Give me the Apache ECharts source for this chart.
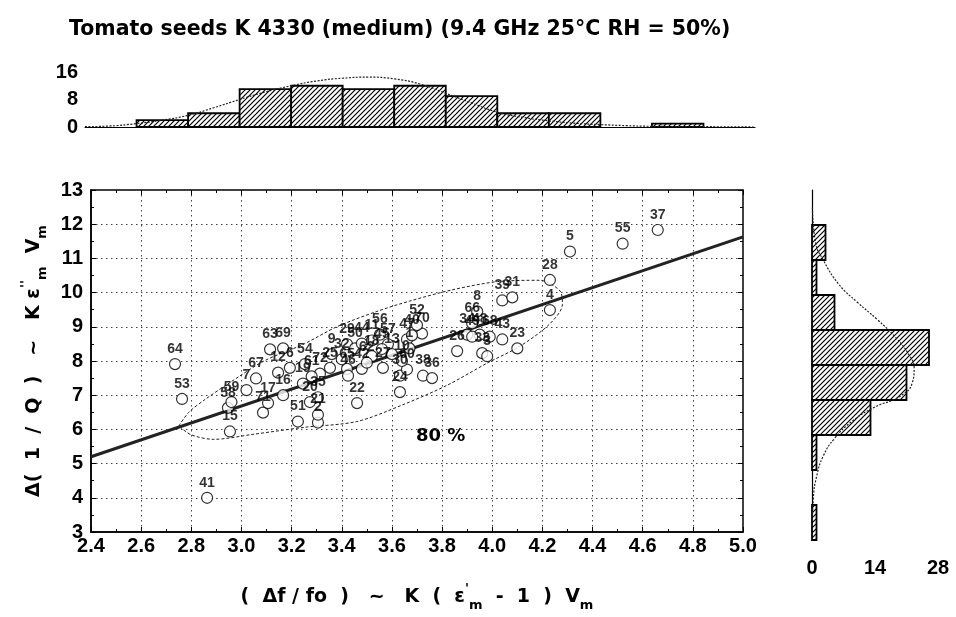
<!DOCTYPE html>
<html>
<head>
<meta charset="utf-8">
<script src="https://cdn.jsdelivr.net/npm/echarts@6/dist/echarts.min.js"></script>
<style>
  html, body { margin: 0; padding: 0; background: #fff; }
  #chart { width: 956px; height: 617px; }
</style>
</head>
<body>
<div id="chart"></div>
<script>
  // scatter points (sample number, x, y)
  const pointLabels = ['64', '53', '41', '15', '58', '59', '71', '17', '67', '7', '63', '69', '12', '6', '16', '51',
    '2', '21', '35', '54', '72', '25', '65', '22', '46', '42', '29', '50', '44', '18', '56', '27', '57', '30', '24',
    '47', '70', '38', '19', '20', '9', '11', '13', '32', '45', '60', '61', '52', '40', '1', '10', '36', '26', '33',
    '3', '43', '23', '34', '48', '49', '68', '66', '8', '39', '31', '4', '28', '5', '55', '37', '62'];
  const pointX = [2.735, 2.763, 2.863, 2.954, 2.946, 2.96, 3.086, 3.106, 3.058, 3.02, 3.114, 3.166, 3.146, 3.193, 3.166, 3.225,
    3.305, 3.305, 3.305, 3.253, 3.313, 3.353, 3.421, 3.461, 3.425, 3.48, 3.421, 3.453, 3.48, 3.52, 3.552, 3.564, 3.584, 3.632, 3.632,
    3.66, 3.72, 3.724, 3.245, 3.273, 3.36, 3.52, 3.6, 3.4, 3.56, 3.66, 3.28, 3.7, 3.68, 3.67, 3.64, 3.76, 3.86, 3.96,
    3.98, 4.04, 4.1, 3.9, 3.95, 3.92, 3.99, 3.92, 3.94, 4.04, 4.08, 4.23, 4.23, 4.31, 4.52, 4.66, 3.5];
  const pointY = [7.91, 6.89, 4.0, 5.94, 6.63, 6.8, 6.49, 6.77, 7.49, 7.15, 8.34, 8.37, 7.66, 7.8, 7.0, 6.23,
    6.2, 6.43, 6.94, 7.91, 7.63, 7.8, 7.77, 6.77, 7.57, 7.77, 8.49, 8.37, 8.51, 8.14, 8.77, 7.8, 8.49, 7.57, 7.09,
    8.63, 8.8, 7.57, 7.34, 6.8, 8.2, 8.6, 8.2, 8.05, 8.35, 7.75, 7.55, 9.05, 8.75, 8.37, 8.0, 7.5, 8.29, 8.23,
    8.14, 8.63, 8.37, 8.77, 8.77, 8.71, 8.71, 9.1, 9.45, 9.77, 9.86, 9.49, 10.37, 11.2, 11.43, 11.83, 7.95];

  // fitted line
  const fitX = [2.4, 5.0];
  const fitY = [5.2, 11.63];

  // 80 % ellipse outline
  const ellipseX = [2.75, 2.79, 2.85, 2.95, 3.09, 3.25, 3.38, 3.54, 3.67, 3.84, 4.02, 4.19, 4.27, 4.28, 4.23,
    4.11, 3.98, 3.82, 3.64, 3.46, 3.25, 3.05, 2.89, 2.8, 2.75];
  const ellipseY = [6.1, 6.5, 6.85, 7.35, 8.0, 8.5, 9.0, 9.45, 9.75, 10.08, 10.32, 10.36, 10.05, 9.66, 9.09,
    8.43, 7.94, 7.29, 6.71, 6.23, 6.06, 5.86, 5.71, 5.84, 6.1];

  // top histogram (x bins of 0.2)
  const binWidth = 0.2;
  const topBinStart = [2.6, 2.8, 3.0, 3.2, 3.4, 3.6, 3.8, 4.0, 4.2, 4.6];
  const topCounts = [2, 4, 11, 12, 11, 12, 9, 4, 4, 1];
  const topCurveX = [2.4, 2.5, 2.6, 2.7, 2.8, 2.9, 3.0, 3.1, 3.2, 3.3, 3.4, 3.5, 3.6, 3.7, 3.8, 3.9, 4.0, 4.1, 4.2,
    4.3, 4.4, 4.5, 4.6, 4.8, 5.0];
  const topCurveY = [0.1, 0.3, 1.0, 2.0, 3.4, 5.6, 8.0, 10.2, 12.0, 13.4, 14.2, 14.5, 14.0, 12.5, 9.8, 7.0, 4.3, 2.8, 1.8,
    1.1, 0.7, 0.4, 0.2, 0.1, 0];

  // right histogram (y bins of 1)
  const rightBinStart = [3, 5, 6, 7, 8, 9, 10, 11];
  const rightCounts = [1, 1, 13, 21, 26, 5, 1, 3];
  const rightCurveX = [0.1, 0.8, 2.5, 6, 10, 14.5, 18.5, 21.5, 22.7, 22.3, 19.5, 14, 9, 5, 2.5, 1, 0.3, 0.1];
  const rightCurveY = [12.5, 11.5, 11.0, 10.3, 9.8, 9.3, 8.8, 8.3, 7.9, 7.5, 7.1, 6.8, 6.4, 5.9, 5.4, 4.8, 4.2, 3.5];

  const FONT = 'Arial, "Liberation Sans", sans-serif';
  const WIDE = '"DejaVu Sans", Verdana, sans-serif';

  // diagonal hatching used by both histograms
  const makeHatch = () => {
    const s = 5;
    const c = document.createElement('canvas');
    c.width = s;
    c.height = s;
    const ctx = c.getContext('2d');
    ctx.fillStyle = '#fff';
    ctx.fillRect(0, 0, s, s);
    ctx.strokeStyle = '#000';
    ctx.lineWidth = 1.2;
    ctx.beginPath();
    ctx.moveTo(0, s); ctx.lineTo(s, 0);
    ctx.moveTo(-2, 2); ctx.lineTo(2, -2);
    ctx.moveTo(s - 2, s + 2); ctx.lineTo(s + 2, s - 2);
    ctx.stroke();
    return { image: c, repeat: 'repeat' };
  };
  const hatch = makeHatch();

  const nameRich = {
    b: { fontSize: 19, fontWeight: 'bold', fontFamily: WIDE, color: '#000', lineHeight: 30, verticalAlign: 'middle' },
    sub: { fontSize: 13, fontWeight: 'bold', fontFamily: WIDE, color: '#000', lineHeight: 13, verticalAlign: 'bottom' },
    sup: { fontSize: 13, fontWeight: 'bold', fontFamily: WIDE, color: '#000', lineHeight: 13, verticalAlign: 'top' },
  };
  const tickFont = { fontSize: 20, fontWeight: 'bold', fontFamily: FONT, color: '#000' };
  const dotted = { type: [1.5, 3.5], color: '#444', width: 1 };
  const frameTicks = {
    axisLine: { show: false }, axisLabel: { show: false }, splitLine: { show: false },
    axisTick: { show: true, inside: true, length: 5, lineStyle: { color: '#000' } },
    minorTick: { show: true, splitNumber: 2, length: 3, lineStyle: { color: '#000' } },
  };

  const chart = echarts.init(document.getElementById('chart'));

  const option = {
    animation: false,
    backgroundColor: '#fff',
    title: {
      text: 'Tomato seeds K 4330 (medium) (9.4 GHz 25°C RH = 50%)',
      left: 64,
      top: 14,
      textStyle: { fontSize: 20.5, fontWeight: 'bold', fontFamily: WIDE, color: '#000' },
    },
    grid: [
      { left: 91, top: 190, width: 652, height: 350, show: true, borderColor: '#000', borderWidth: 1.5, backgroundColor: 'transparent' },
      { left: 85, top: 72, width: 670, height: 55 },
      { left: 812, top: 190, width: 126, height: 350 },
    ],
    xAxis: [
      {
        gridIndex: 0, type: 'value', min: 2.4, max: 5.0, interval: 0.2,
        axisLine: { show: true, lineStyle: { color: '#000', width: 1.5 } },
        axisTick: { show: true, inside: true, length: 5, lineStyle: { color: '#000' } },
        minorTick: { show: true, splitNumber: 2, length: 3, lineStyle: { color: '#000' } },
        splitLine: { show: true, lineStyle: dotted },
        axisLabel: { ...tickFont, margin: 4, formatter: (v) => v.toFixed(1) },
        name: '{b|(  Δf / fo  )   ~   K  (  ε}{sup|\'}{sub|m}{b|  -  1  )  V}{sub|m}',
        nameLocation: 'middle', nameGap: 50,
        nameTextStyle: { rich: nameRich },
      },
      {
        gridIndex: 1, type: 'value', min: 2.4, max: 5.0,
        axisLine: { show: true, lineStyle: { color: '#000', width: 1 } },
        axisTick: { show: false }, axisLabel: { show: false }, splitLine: { show: false },
      },
      {
        gridIndex: 2, type: 'value', min: 0, max: 28, interval: 14,
        axisLine: { show: false }, axisTick: { show: false }, splitLine: { show: false },
        axisLabel: { ...tickFont, margin: 18 },
      },
      {
        gridIndex: 0, type: 'value', position: 'top', min: 2.4, max: 5.0, interval: 0.2, ...frameTicks,
      },
    ],
    yAxis: [
      {
        gridIndex: 0, type: 'value', min: 3, max: 13, interval: 1,
        axisLine: { show: true, lineStyle: { color: '#000', width: 1.5 } },
        axisTick: { show: true, inside: true, length: 5, lineStyle: { color: '#000' } },
        minorTick: { show: true, splitNumber: 2, length: 3, lineStyle: { color: '#000' } },
        splitLine: { show: true, lineStyle: dotted },
        axisLabel: { ...tickFont, margin: 8 },
        name: '{b|Δ(  1  /  Q  )   ~   K ε}{sup|\'\'}{sub|m}{b|  V}{sub|m}',
        nameLocation: 'middle', nameGap: 42, nameRotate: 90,
        nameTextStyle: { rich: nameRich },
      },
      {
        gridIndex: 1, type: 'value', min: 0, max: 16, interval: 8,
        axisLine: { show: false }, axisTick: { show: false }, splitLine: { show: false },
        axisLabel: { ...tickFont, margin: 7 },
      },
      {
        gridIndex: 2, type: 'value', min: 3, max: 13,
        axisLine: { show: true, lineStyle: { color: '#000', width: 1.2 } },
        axisTick: { show: false }, axisLabel: { show: false }, splitLine: { show: false },
      },
      {
        gridIndex: 0, type: 'value', position: 'right', min: 3, max: 13, interval: 1, ...frameTicks,
      },
    ],
    graphic: [
      {
        type: 'text', left: 416, top: 427,
        style: { text: '80 %', fontSize: 18, fontWeight: 'bold', fontFamily: WIDE, fill: '#000' },
      },
    ],
    series: [
      {
        type: 'line', xAxisIndex: 0, yAxisIndex: 0,
        data: ellipseX.map((x, i) => [x, ellipseY[i]]),
        smooth: 0.3, symbol: 'none', silent: true,
        lineStyle: { color: '#222', width: 1, type: [3, 2] },
        z: 3,
      },
      {
        type: 'line', xAxisIndex: 0, yAxisIndex: 0,
        data: fitX.map((x, i) => [x, fitY[i]]),
        symbol: 'none', silent: true,
        lineStyle: { color: '#222', width: 3 },
        z: 4,
      },
      {
        type: 'scatter', xAxisIndex: 0, yAxisIndex: 0,
        data: pointX.map((x, i) => [x, pointY[i], pointLabels[i]]),
        symbol: 'circle', symbolSize: 11,
        itemStyle: { color: '#fff', borderColor: '#000', borderWidth: 1.2 },
        label: {
          show: true, position: 'top', distance: 2,
          formatter: (p) => p.value[2],
          fontSize: 14, fontWeight: 'bold', fontFamily: FONT, color: '#000',
        },
        z: 5,
      },
      {
        type: 'custom', xAxisIndex: 1, yAxisIndex: 1,
        data: topBinStart.map((s, i) => [s, topCounts[i]]),
        encode: { x: 0, y: 1 },
        renderItem: (params, api) => {
          const x0 = api.value(0);
          const p0 = api.coord([x0, 0]);
          const p1 = api.coord([x0 + binWidth, api.value(1)]);
          return {
            type: 'rect',
            shape: { x: p0[0], y: p1[1], width: p1[0] - p0[0], height: p0[1] - p1[1] },
            style: { fill: hatch, stroke: '#000', lineWidth: 1.8 },
          };
        },
      },
      {
        type: 'line', xAxisIndex: 1, yAxisIndex: 1,
        data: topCurveX.map((x, i) => [x, topCurveY[i]]),
        smooth: true, symbol: 'none', silent: true,
        lineStyle: { color: '#222', width: 1.2, type: [2, 1.5] },
        z: 5,
      },
      {
        type: 'custom', xAxisIndex: 2, yAxisIndex: 2,
        data: rightBinStart.map((s, i) => [rightCounts[i], s]),
        encode: { x: 0, y: 1 },
        renderItem: (params, api) => {
          const y0 = api.value(1);
          const p0 = api.coord([0, y0]);
          const p1 = api.coord([api.value(0), y0 + 1]);
          return {
            type: 'rect',
            shape: { x: p0[0], y: p1[1], width: p1[0] - p0[0], height: p0[1] - p1[1] },
            style: { fill: hatch, stroke: '#000', lineWidth: 1.8 },
          };
        },
      },
      {
        type: 'line', xAxisIndex: 2, yAxisIndex: 2,
        data: rightCurveX.map((x, i) => [x, rightCurveY[i]]),
        smooth: true, symbol: 'none', silent: true,
        lineStyle: { color: '#222', width: 1.2, type: [2, 1.5] },
        z: 5,
      },
    ],
  };

  chart.setOption(option);
  window.addEventListener('resize', () => chart.resize());
</script>
</body>
</html>
